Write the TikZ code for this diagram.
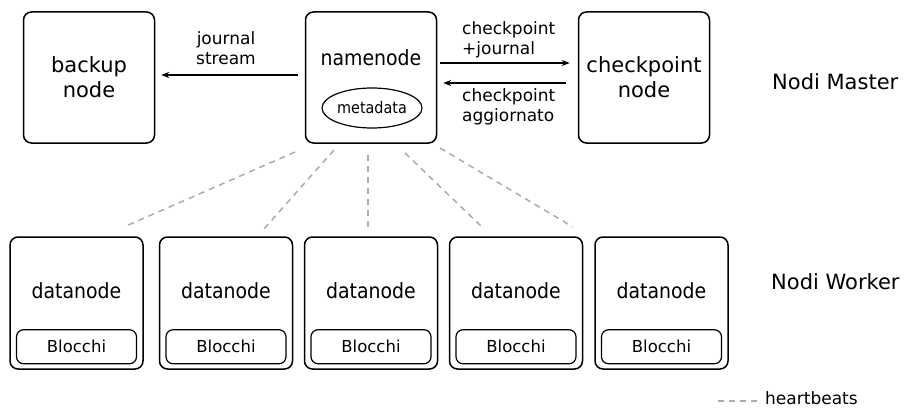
\documentclass[tikz,border=0pt]{standalone}
\usepackage{fontspec}
\setmainfont{DejaVu Sans}
\newfontfamily\condfont{DejaVu Sans Condensed}
\usetikzlibrary{arrows.meta,calc,shapes.geometric}

\tikzset{
  bigbox/.style={draw, line width=1.5pt, rounded corners=8pt, minimum width=131pt,
                 minimum height=131pt, inner sep=0pt},
  dnbox/.style={draw, line width=1.5pt, rounded corners=8pt, minimum width=133pt,
                minimum height=132pt, inner sep=0pt},
  blkbox/.style={draw, line width=1.2pt, rounded corners=7pt, minimum width=120pt,
                 minimum height=34pt, inner sep=0pt, font=\fontsize{16.5}{18}\selectfont},
  bigtxt/.style={font=\fontsize{21}{25}\selectfont, align=center, inner sep=0pt},
  condtxt/.style={font=\condfont\fontsize{21}{25}\selectfont, align=center, inner sep=0pt},
  lbl/.style={font=\fontsize{17}{20}\selectfont, inner sep=0pt},
  arr/.style={line width=1.5pt, -{Stealth[length=8pt,width=6pt]}},
  hb/.style={draw=black!33, line width=1.5pt, dash pattern=on 6pt off 5pt},
}

\begin{document}
\begin{tikzpicture}[x=1pt,y=-1pt]
\useasboundingbox (0,0) rectangle (904,409);

% master row
\node[bigbox] (bk) at (89,77.5) {};
\node[bigtxt] at (bk.center) {backup\\node};
\node[bigbox] (nn) at (371,77.5) {};
\node[condtxt] (nntxt) at ($(nn.north)+(0,46)$) {namenode};
\node[draw, ellipse, line width=1.2pt, minimum width=100pt, minimum height=40pt,
      inner sep=0pt, font=\condfont\fontsize{16}{18}\selectfont] (md) at (372,108) {metadata};
\node[bigbox] (cp) at (644,77.5) {};
\node[bigtxt] at (cp.center) {checkpoint\\node};

% master links
\draw[arr, shorten <=7pt, shorten >=6pt] ([yshift=2.5pt]nn.west) -- ([yshift=2.5pt]bk.east);
\node[lbl, align=center] at (226,48) {journal\\stream};
\draw[arr, shorten <=3pt, shorten >=8pt] ([yshift=14.5pt]nn.east) -- ([yshift=14.5pt]cp.west);
\draw[arr, shorten <=12pt, shorten >=6pt] ([yshift=-5.5pt]cp.west) -- ([yshift=-5.5pt]nn.east);
\node[lbl, align=left, anchor=west] at (462,40) {checkpoint\\+journal};
\node[lbl, align=left, anchor=west] at (462,107) {checkpoint\\aggiornato};

\node[bigtxt, anchor=west] at (772,82) {Nodi Master};
\node[bigtxt, anchor=west] at (771,282) {Nodi Worker};

% worker row
\foreach \i/\x in {1/76.5, 2/226, 3/371, 4/516, 5/661.5} {
  \node[dnbox] (dn\i) at (\x,303) {};
  \node[condtxt] at ($(dn\i.north)+(0,54)$) {datanode};
  \node[blkbox] (b\i) at ($(dn\i.south)+(0,-23)$) {Blocchi};
}

% heartbeats
\coordinate (h1a) at (295,152); \coordinate (h1b) at (126,226);
\coordinate (h2a) at (334,150); \coordinate (h2b) at (263,230);
\coordinate (h3a) at (368,155); \coordinate (h3b) at (368,227);
\coordinate (h4a) at (405,153); \coordinate (h4b) at (483,228);
\coordinate (h5a) at (440,148); \coordinate (h5b) at (573,227);
\foreach \i in {1,...,5} \draw[hb] (h\i a) -- (h\i b);

% legend
\coordinate (lga) at (718,401); \coordinate (lgb) at (761,401);
\draw[hb] (lga) -- (lgb);
\node[lbl, anchor=west] at (765,398) {heartbeats};
\end{tikzpicture}
\end{document}
